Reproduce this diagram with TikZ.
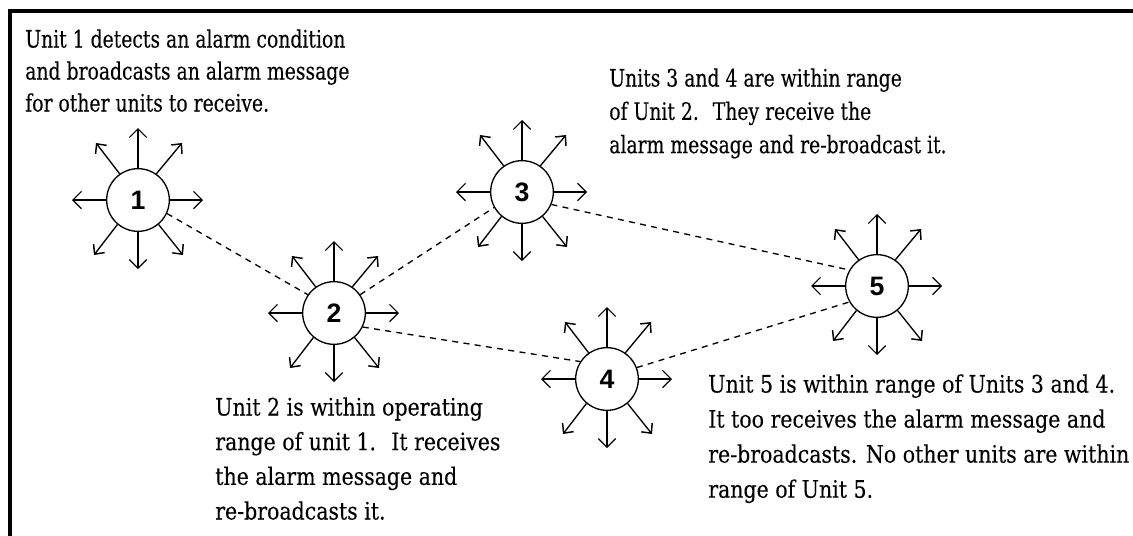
\documentclass[tikz,border=0pt]{standalone}
\usepackage{fontspec}
\usetikzlibrary{arrows.meta,calc}
\setmainfont{DejaVu Serif Condensed}
\newfontfamily\numfont{Liberation Sans}
\newfontfamily\paraA[FakeStretch=0.87,FakeBold=0.15]{DejaVu Serif Condensed}
\newfontfamily\paraB[FakeStretch=0.95,FakeBold=0.15]{DejaVu Serif Condensed}
\tikzset{
  unit/.style={circle,draw=black,line width=1pt,minimum size=47pt,inner sep=0pt,font=\numfont\bfseries\fontsize{20}{24}\selectfont},
  ray/.style={line width=1pt,-{Straight Barb[length=6.5pt,width=13pt,line width=0.9pt]}},
  dray/.style={line width=1pt,-{Straight Barb[length=5.5pt,width=10.5pt,line width=1.1pt]}},
  link/.style={line width=1pt,dash pattern=on 4.5pt off 4pt},
  frameline/.style={line width=3pt,draw=black},
  para/.style={anchor=north west,inner sep=0pt,align=left},
}
\newcommand{\burst}[1]{%
  \coordinate (#1n) at ($(#1)+(0,-72)$);
  \coordinate (#1s) at ($(#1)+(0,69)$);
  \coordinate (#1w) at ($(#1)+(-66,0)$);
  \coordinate (#1e) at ($(#1)+(65,0)$);
  \coordinate (#1nw) at ($(#1)+(-42,-57)$);
  \coordinate (#1ne) at ($(#1)+(44,-57)$);
  \coordinate (#1sw) at ($(#1)+(-44,55)$);
  \coordinate (#1se) at ($(#1)+(45,55)$);
  \draw[ray] (#1.north) -- (#1n);
  \draw[ray] (#1.south) -- (#1s);
  \draw[ray] (#1.west) -- (#1w);
  \draw[ray] (#1.east) -- (#1e);
  \draw[dray] (#1.125) -- (#1nw);
  \draw[dray] (#1.55) -- (#1ne);
  \draw[dray] (#1.230) -- (#1sw);
  \draw[dray] (#1.310) -- (#1se);
}
\begin{document}
\begin{tikzpicture}[x=0.75pt,y=-0.75pt]
\useasboundingbox (0,0) rectangle (1133,536);
\coordinate (fa) at (10,536);
\coordinate (fb) at (10,11);
\coordinate (fc) at (1133,11);
\draw[frameline] (fa) -- (fb) -- (fc);
\node[unit] (u1) at (138,200) {1};
\node[unit] (u2) at (334,313) {2};
\node[unit] (u3) at (522,192) {3};
\node[unit] (u4) at (607,379) {4};
\node[unit] (u5) at (877,286) {5};
\burst{u1}\burst{u2}\burst{u3}\burst{u4}\burst{u5}
\draw[link] (u1.-25) -- (u2.145);
\draw[link] (u2.35) -- (u3.209);
\draw[link] (u2.-26) -- (u4.147);
\draw[link] (u3.-23) -- (u5.150);
\draw[link] (u4.21) -- (u5.210);
\node[para,font=\paraA\fontsize{18}{24}\selectfont] (p1) at (25,29) {Unit 1 detects an alarm condition\\and broadcasts an alarm message\\for other units to receive.};
\node[para,font=\paraA\fontsize{18}{25}\selectfont] (p3) at (609,68) {Units 3 and 4 are within range\\of Unit 2.~ They receive the\\alarm message and re-broadcast it.};
\node[para,font=\paraB\fontsize{18}{26}\selectfont] (p2) at (215,397) {Unit 2 is within operating\\range of unit 1.~ It receives\\the alarm message and\\re-broadcasts it.};
\node[para,font=\paraB\fontsize{18}{26.3}\selectfont] (p5) at (708,374) {Unit 5 is within range of Units 3 and 4.\\It too receives the alarm message and\\re-broadcasts. No other units are within\\range of Unit 5.};
\end{tikzpicture}
\end{document}
